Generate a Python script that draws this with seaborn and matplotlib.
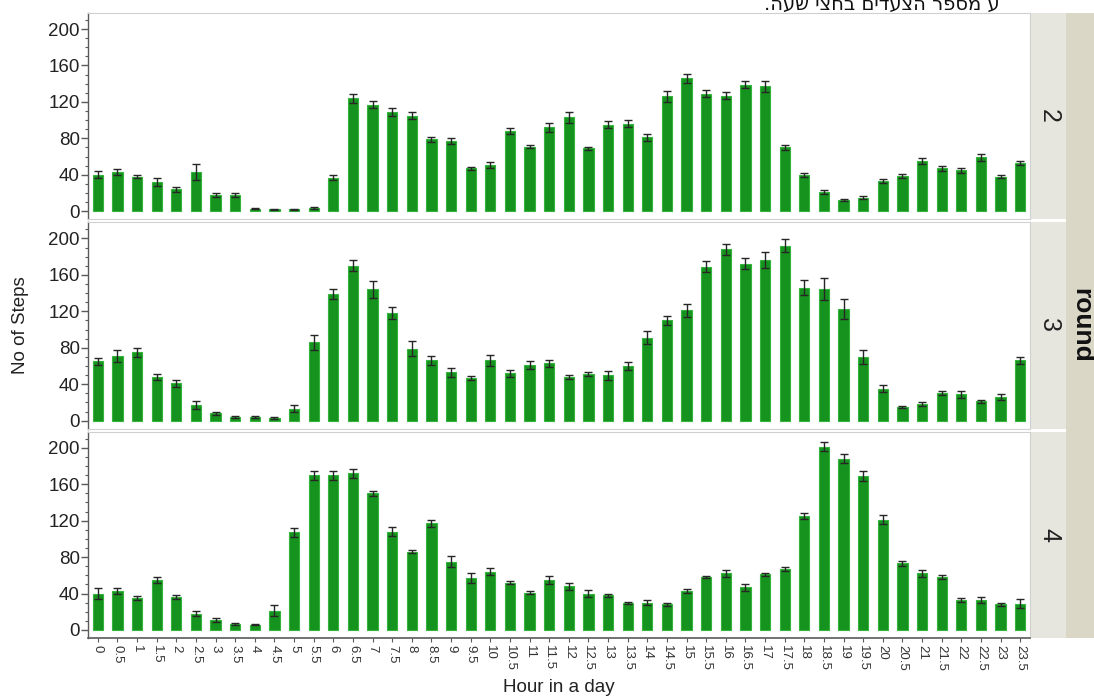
import numpy as np
import pandas as pd
import seaborn as sns
import matplotlib.pyplot as plt
from matplotlib.patches import Rectangle
from matplotlib.ticker import MultipleLocator

# Half-hour slots of the day
hours = ["0", "0.5", "1", "1.5", "2", "2.5", "3", "3.5", "4", "4.5", "5", "5.5",
         "6", "6.5", "7", "7.5", "8", "8.5", "9", "9.5", "10", "10.5", "11", "11.5",
         "12", "12.5", "13", "13.5", "14", "14.5", "15", "15.5", "16", "16.5", "17", "17.5",
         "18", "18.5", "19", "19.5", "20", "20.5", "21", "21.5", "22", "22.5", "23", "23.5"]

rounds = ["2", "3", "4"]

# Mean number of steps per half hour, and its standard error, per round
round2_mean = [40, 43, 38, 32, 24, 43, 18, 18, 3, 2, 2, 4,
               37, 124, 117, 109, 105, 79, 77, 47, 51, 88, 71, 92,
               103, 69, 95, 96, 81, 126, 146, 129, 127, 139, 137, 70,
               40, 21, 12, 15, 33, 39, 55, 47, 45, 59, 38, 53]
round2_err = [4, 3, 2, 4, 3, 9, 2, 2, 1, 1, 1, 1,
              3, 5, 4, 4, 4, 3, 3, 2, 3, 3, 2, 5,
              6, 2, 4, 4, 4, 6, 5, 4, 4, 4, 6, 3,
              2, 2, 1, 2, 2, 2, 3, 3, 3, 4, 2, 2]

round3_mean = [65, 71, 75, 48, 41, 17, 8, 4, 4, 3, 13, 86,
               139, 170, 144, 118, 79, 66, 53, 47, 66, 52, 61, 63,
               48, 51, 50, 60, 91, 110, 121, 169, 188, 172, 176, 192,
               146, 144, 122, 70, 35, 15, 18, 30, 29, 21, 26, 66]
round3_err = [4, 7, 5, 3, 4, 4, 2, 1, 1, 1, 4, 8,
              5, 6, 9, 7, 8, 5, 5, 2, 6, 4, 4, 4,
              2, 2, 5, 4, 7, 5, 7, 6, 6, 6, 9, 7,
              8, 12, 11, 8, 4, 1, 2, 2, 4, 2, 3, 4]

round4_mean = [40, 43, 35, 55, 36, 18, 11, 7, 6, 21, 107, 170,
               170, 172, 150, 108, 86, 117, 75, 57, 64, 52, 41, 55,
               48, 40, 38, 30, 30, 28, 43, 58, 62, 47, 61, 67,
               125, 201, 188, 169, 121, 73, 62, 58, 33, 33, 28, 29]
round4_err = [6, 3, 2, 3, 2, 3, 2, 1, 1, 6, 5, 5,
              5, 5, 3, 5, 2, 4, 6, 5, 4, 2, 2, 4,
              4, 4, 2, 1, 3, 2, 2, 1, 4, 4, 2, 2,
              3, 5, 5, 5, 5, 3, 4, 2, 2, 3, 2, 5]

means = {"2": round2_mean, "3": round3_mean, "4": round4_mean}
errs = {"2": round2_err, "3": round3_err, "4": round4_err}

df = pd.concat(
    [pd.DataFrame({"hour": hours, "steps": means[r], "se": errs[r], "round": r}) for r in rounds],
    ignore_index=True,
)

caption = "ע מספר הצעדים בחצי שעה."

sns.set_theme(style="white")
plt.rcParams["font.family"] = ["Liberation Sans", "DejaVu Sans"]

W, H = 1094, 698
fig, axes = plt.subplots(3, 1, figsize=(W / 100, H / 100), dpi=100, sharex=True, sharey=True)
fig.subplots_adjust(left=88 / W, right=1030 / W, top=1 - 13 / H, bottom=1 - 638 / H, hspace=0.015)

bar_color = "#16921e"
edge_color = "#34b33d"
err_color = "#262626"
frame_color = "#d0d0d0"
axis_color = "#5a5a5a"

for i, (ax, r) in enumerate(zip(axes, rounds)):
    sub = df[df["round"] == r]
    sns.barplot(data=sub, x="hour", y="steps", order=hours, color=bar_color,
                saturation=1, errorbar=None, width=0.52,
                edgecolor=edge_color, linewidth=0.8, ax=ax)
    ax.errorbar(np.arange(len(sub)), sub["steps"], yerr=sub["se"], fmt="none",
                ecolor=err_color, elinewidth=1.0, capsize=3, capthick=1.0, zorder=4)

    ax.set_xlim(-0.5, len(hours) - 0.5)
    ax.set_ylim(-8.8, 217.6)
    ax.yaxis.set_major_locator(MultipleLocator(40))
    ax.yaxis.set_minor_locator(MultipleLocator(10))
    ax.set_xlabel("")
    ax.set_ylabel("")

    for side in ["top", "right", "bottom"]:
        ax.spines[side].set_color(frame_color)
        ax.spines[side].set_linewidth(0.8)
    ax.spines["left"].set_color(axis_color)
    ax.spines["left"].set_linewidth(1.0)

    ax.tick_params(axis="y", which="major", direction="out", length=5, width=1,
                   color=axis_color, labelsize=13.5, pad=1, left=True, labelcolor="#222222")
    ax.tick_params(axis="y", which="minor", direction="out", length=2.5, width=0.8,
                   color=axis_color, left=True)

    if i < 2:
        ax.tick_params(axis="x", bottom=False, labelbottom=False)
    else:
        ax.spines["bottom"].set_color(axis_color)
        ax.spines["bottom"].set_linewidth(1.2)
        ax.set_xticks(np.arange(len(hours)))
        ax.set_xticklabels(hours, rotation=270, ha="center", va="top")
        ax.tick_params(axis="x", direction="out", length=3, width=0.8, color=axis_color,
                       labelsize=9.5, pad=2, bottom=True, labelcolor="#333333")

    # strip on the right with the round number
    pos = ax.get_position()
    fig.add_artist(Rectangle((1030 / W, pos.y0), 36 / W, pos.height, transform=fig.transFigure,
                             facecolor="#e7e6de", edgecolor="none", zorder=0))
    fig.text(1049 / W, (pos.y0 + pos.y1) / 2, r, rotation=270, ha="center", va="center",
             fontsize=18, color="#222222")

# outer strip naming the facet variable
fig.add_artist(Rectangle((1066 / W, 1 - 638 / H), 28 / W, 625 / H, transform=fig.transFigure,
                         facecolor="#dad7c7", edgecolor="none", zorder=0))
fig.text(1081 / W, 1 - 325 / H, "round", rotation=270, ha="center", va="center",
         fontsize=19, fontweight="bold", color="#111111")

fig.text(21 / W, 1 - 325 / H, "No of Steps", rotation=90, ha="center", va="center",
         fontsize=13.5, color="#222222")
fig.text(559 / W, 1 - 688 / H, "Hour in a day", ha="center", va="center",
         fontsize=13.5, color="#222222")

# Hebrew caption line, laid out right-to-left
fig.text(1000 / W, 1 - 4 / H, caption[::-1], ha="right", va="center",
         fontsize=14, color="#111111", family=["DejaVu Sans"])

fig.savefig("out.png", dpi=100, facecolor="white")
